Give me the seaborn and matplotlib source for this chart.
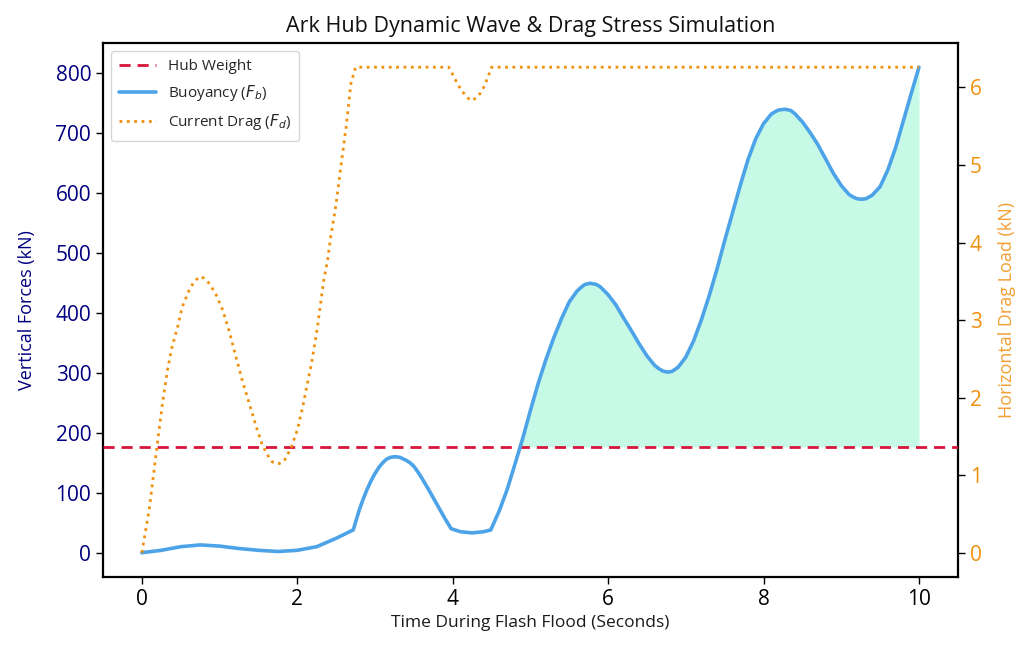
import numpy as np
import pandas as pd
import matplotlib
matplotlib.use("Agg")
import matplotlib.pyplot as plt
import seaborn as sns

# ---------------- data ----------------
hub_weight = 176.4

buoy_t = [0.0, 0.25, 0.5, 0.75, 1.0, 1.25, 1.5, 1.75, 2.0, 2.25, 2.5, 2.72,
          2.76, 2.8, 2.85, 2.9, 2.95, 3.0, 3.05, 3.1, 3.15, 3.2, 3.26, 3.32,
          3.4, 3.45, 3.5, 3.55, 3.6, 3.7, 3.8, 3.9, 3.98,
          4.1, 4.25, 4.4, 4.49, 4.6, 4.7, 4.8, 4.9, 5.0, 5.1, 5.2, 5.3, 5.4,
          5.5, 5.6, 5.65, 5.7, 5.77, 5.85, 5.9, 6.0, 6.1, 6.2, 6.3, 6.4, 6.5,
          6.6, 6.65, 6.7, 6.76, 6.82, 6.9, 7.0, 7.1, 7.2, 7.3, 7.4, 7.5, 7.6,
          7.7, 7.8, 7.9, 8.0, 8.1, 8.15, 8.2, 8.28, 8.35, 8.4, 8.5, 8.6, 8.7,
          8.8, 8.9, 9.0, 9.1, 9.15, 9.2, 9.26, 9.32, 9.4, 9.5, 9.6, 9.7, 9.8,
          9.9, 10.0]
buoy_v = [0, 4, 10, 13, 11, 7, 4, 2, 4, 10, 24, 38,
          55, 72, 90, 106, 120, 132, 142, 150, 156, 159, 160, 159,
          154, 150, 144, 135, 125, 103, 80, 57, 40,
          35, 33, 35, 38, 70, 105, 147, 190, 237, 282, 322, 358, 390,
          418, 436, 442, 447, 449, 447, 443, 430, 413, 391, 370, 348, 328,
          312, 307, 303, 301, 302, 309, 326, 353, 388, 428, 472, 520, 566,
          612, 655, 690, 715, 731, 735, 738, 739, 737, 732, 718, 700, 680,
          656, 632, 612, 597, 593, 590, 589, 590, 596, 610, 638, 675, 720,
          765, 809]

drag_t = [0.0, 0.094, 0.158, 0.2, 0.266, 0.33, 0.39, 0.46, 0.52, 0.61,
          0.67, 0.74, 0.80, 0.86, 0.95, 1.04, 1.12, 1.21, 1.29, 1.38, 1.47,
          1.55, 1.64, 1.68, 1.72, 1.77, 1.83, 1.92, 2.0, 2.07, 2.13, 2.19,
          2.26, 2.3, 2.34, 2.39, 2.43, 2.5, 2.56, 2.63, 2.69, 2.75, 3.95,
          4.04, 4.1, 4.17, 4.23, 4.3, 4.36, 4.41, 4.46, 4.5, 10.0]
drag_v = [0.0, 0.55, 1.07, 1.41, 1.93, 2.36, 2.66, 2.91, 3.17, 3.39,
          3.49, 3.56, 3.54, 3.48, 3.34, 3.13, 2.87, 2.53, 2.23, 1.93, 1.63,
          1.39, 1.22, 1.17, 1.15, 1.15, 1.18, 1.35, 1.58, 1.88, 2.18, 2.48,
          2.91, 3.21, 3.51, 3.77, 4.07, 4.50, 4.97, 5.50, 6.05, 6.26, 6.26,
          6.09, 5.98, 5.89, 5.83, 5.86, 5.93, 6.02, 6.15, 6.26, 6.26]

# ---------------- style ----------------
sns.set_theme(style="ticks")
plt.rcParams['font.family'] = ['Open Sans', 'DejaVu Sans']
plt.rcParams['axes.edgecolor'] = 'black'
plt.rcParams['axes.linewidth'] = 1.6
plt.rcParams['xtick.color'] = 'black'
plt.rcParams['ytick.color'] = 'black'
plt.rcParams['mathtext.fontset'] = 'dejavusans'

fig, ax = plt.subplots(figsize=(10.31, 6.57), dpi=100)
fig.subplots_adjust(left=0.0999, right=0.929, top=0.9346, bottom=0.1218)
ax2 = ax.twinx()

buoy_df = pd.DataFrame({"t": buoy_t, "Fb": buoy_v})
drag_df = pd.DataFrame({"t": drag_t, "Fd": drag_v})

ax.axhline(hub_weight, color='#d7153a', ls='--', lw=2, dashes=(4, 2.5),
           label='Hub Weight', zorder=3)
sns.lineplot(data=buoy_df, x="t", y="Fb", ax=ax, color='#4da3e8', lw=2.6,
             label='Buoyancy ($F_b$)', legend=False, zorder=4)
bt = np.array(buoy_t); bv = np.array(buoy_v)
ax.fill_between(bt, hub_weight, bv, where=bv > hub_weight, interpolate=True,
                color='#c6fae6', lw=0, zorder=1)

sns.lineplot(data=drag_df, x="t", y="Fd", ax=ax2, color='#f0900f', lw=2,
             ls=':', label='Current Drag ($F_d$)', legend=False)

ax.set_xlim(-0.5, 10.5)
ax.set_ylim(-40.45, 849.5)
ax2.set_ylim(-0.313, 6.573)
ax.set_xticks([0, 2, 4, 6, 8, 10])
ax.set_yticks([0, 100, 200, 300, 400, 500, 600, 700, 800])
ax2.set_yticks([0, 1, 2, 3, 4, 5, 6])

ax.tick_params(axis='x', labelsize=15, length=5, width=1)
ax.tick_params(axis='y', labelsize=15, labelcolor='#000080', length=5, width=1)
ax2.tick_params(axis='y', labelsize=15, labelcolor='#f0900f', length=5, width=1)

ax.set_xlabel('Time During Flash Flood (Seconds)', fontsize=12.5, color='#1a1a1a')
ax.set_ylabel('Vertical Forces (kN)', fontsize=13, color='#000080', labelpad=14)
ax2.set_ylabel('Horizontal Drag Load (kN)', fontsize=13, color='#f2a033',
               labelpad=12)
ax.set_title('Ark Hub Dynamic Wave & Drag Stress Simulation', fontsize=15.5,
             color='#111111', pad=8)

for s in ax2.spines.values():
    s.set_visible(False)

h1, l1 = ax.get_legend_handles_labels()
h2, l2 = ax2.get_legend_handles_labels()
leg = ax2.legend(h1 + h2, l1 + l2, loc='upper left', fontsize=11,
                 frameon=True, borderpad=0.55, labelspacing=0.6,
                 handlelength=2.4)
leg.get_frame().set_edgecolor('#cccccc')

fig.savefig('out.png', dpi=100)
